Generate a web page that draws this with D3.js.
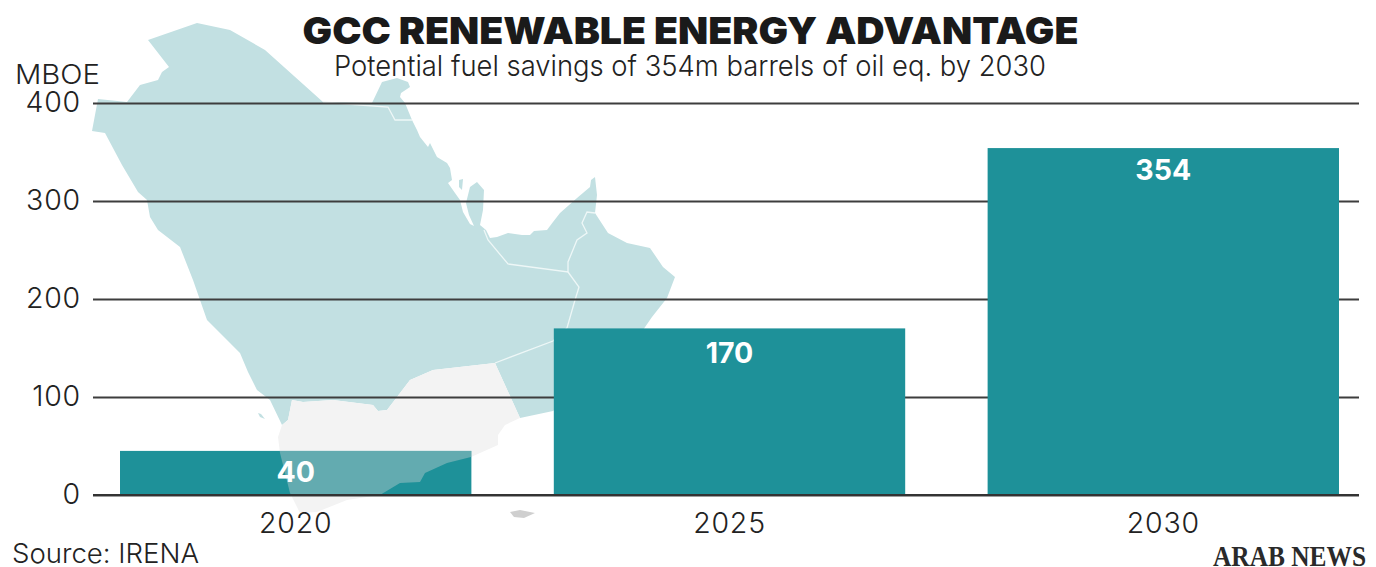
<!DOCTYPE html>
<html><head><meta charset="utf-8">
<script src="https://cdn.jsdelivr.net/npm/d3@7"></script>
<style>
html,body{margin:0;padding:0;background:#fff;overflow:hidden}
text{font-family:Inter,"Noto Sans",sans-serif;fill:#222}
</style></head><body><svg id="c" width="1376" height="567"></svg>
<script>
const categories = ["2020","2025","2030"];
const barValues = [45,170,354];
const valueLabels = ["40","170","354"];
const yTicks = [0,100,200,300,400];
const titleText = "GCC RENEWABLE ENERGY ADVANTAGE";
const subtitleText = "Potential fuel savings of 354m barrels of oil eq. by 2030";
const unitText = "MBOE";
const sourceText = "Source: IRENA";
const logoText = "ARAB NEWS";

// Decorative backdrop map outlines
const gccOutline = [[148,40],[197,23],[230,30],[265,50],[323,102],[372,103],[382,82],[397,78],[408,82],[410,87],[401,93],[400,97],[405,103],[412,120],[417,130],[420,137],[428,147],[430,143],[437,157],[447,163],[450,168],[452,180],[448,183],[455,193],[460,200],[463,212],[470,224],[474,226],[469,215],[466,203],[470,187],[477,182],[484,190],[483,210],[480,225],[486,230],[490,238],[497,237],[508,233],[522,235],[530,235],[534,231],[547,230],[553,222],[560,213],[577,198],[590,187],[591,180],[595,177],[597,195],[595,213],[608,233],[627,243],[650,248],[663,267],[675,277],[667,298],[652,317],[643,330],[600,370],[553,411],[520,418],[495,363],[433,370],[410,380],[397,397],[387,410],[378,411],[373,405],[333,400],[303,402],[292,400],[288,420],[282,425],[270,400],[257,390],[248,372],[240,353],[230,343],[207,320],[193,280],[180,247],[158,230],[150,217],[147,200],[138,192],[122,165],[105,133],[92,131],[98,99],[127,102],[140,85],[158,80],[162,72],[169,67]];
const yemenOutline = [[495,363],[520,418],[505,425],[498,435],[498,445],[471,457],[447,463],[425,473],[420,482],[400,483],[380,495],[347,500],[317,512],[300,513],[290,493],[280,453],[278,437],[282,425],[288,420],[292,400],[303,402],[333,400],[373,405],[378,411],[387,410],[397,397],[410,380],[433,370]];
const socotra = [[510,512],[520,510],[535,513],[524,518],[514,517]];
const bahrain = [[459,180],[463,179],[462,190],[459,187]];
const farasan = [[258,413],[261,414],[265,419],[260,417]];
const borders = [
  [[323,102],[360,105],[388,107],[395,120],[412,120]],
  [[484,230],[488,240],[508,264],[568,272],[568,262],[577,240],[587,233],[582,223],[587,212],[595,213]],
  [[568,272],[579,287],[575,300],[567,328],[553,341],[495,363]]
];

const svg = d3.select("#c");
const y = d3.scaleLinear().domain([0,400]).range([495,103]);
const x = d3.scaleBand().domain(categories).range([120,1339]).paddingInner(0.19).paddingOuter(0);
const line = d3.line();
const closed = d3.line().curve(d3.curveLinearClosed);

// map
svg.append("path").attr("d",closed(gccOutline)).attr("fill","#c2e0e2");
svg.append("path").attr("d",closed(bahrain)).attr("fill","#c2e0e2");
svg.append("path").attr("d",closed(farasan)).attr("fill","#c2e0e2");
svg.append("path").attr("d",closed(yemenOutline)).attr("fill","#f3f3f3");
svg.append("path").attr("d",closed(socotra)).attr("fill","#cfcfcf");
svg.selectAll("path.b").data(borders).join("path").attr("class","b")
  .attr("d",line).attr("fill","none").attr("stroke","#eef7f7").attr("stroke-width",1.3);

// grid + y axis
const axis = svg.append("g").attr("transform","translate(93,0)")
  .call(d3.axisLeft(y).tickValues(yTicks).tickSize(-1266).tickPadding(12).tickFormat(d3.format("d")));
axis.select(".domain").remove();
axis.selectAll(".tick line").attr("stroke","#3d3d3d").attr("stroke-width",1.8);
axis.selectAll(".tick text").attr("font-size",28.5).attr("font-weight",300).attr("letter-spacing",0.8)
  .style("font-family","Inter").style("fill","#222").attr("dy","0.3em").attr("x",-12);

// bars
svg.selectAll("rect.bar").data(categories).join("rect").attr("class","bar")
  .attr("x",d=>x(d)).attr("width",x.bandwidth())
  .attr("y",(d,i)=>y(barValues[i])).attr("height",(d,i)=>y(0)-y(barValues[i]))
  .attr("fill","#1e9199");

// Yemen veil across the first bar
svg.append("clipPath").attr("id","veil").append("rect")
  .attr("x",x(categories[0])).attr("width",x.bandwidth())
  .attr("y",y(barValues[0])).attr("height",y(0)-y(barValues[0]));
svg.append("path").attr("d",closed(yemenOutline)).attr("clip-path","url(#veil)")
  .attr("fill","#d4d4d4").attr("fill-opacity",0.38);

// baseline
svg.append("line").attr("x1",93).attr("x2",1359).attr("y1",y(0)).attr("y2",y(0))
  .attr("stroke","#333").attr("stroke-width",2.2);

// value labels
const labelDrop = [31,35,32];
svg.selectAll("text.v").data(categories).join("text").attr("class","v")
  .attr("x",d=>x(d)+x.bandwidth()/2)
  .attr("y",(d,i)=>y(barValues[i])+labelDrop[i])
  .attr("text-anchor","middle").attr("font-size",28.5).attr("font-weight",700)
  .style("fill","#fff").text((d,i)=>valueLabels[i]);

// category labels
svg.selectAll("text.c").data(categories).join("text").attr("class","c")
  .attr("x",d=>x(d)+x.bandwidth()/2).attr("y",533)
  .attr("text-anchor","middle").attr("font-size",28.5).attr("font-weight",300).attr("letter-spacing",0.8).text(d=>d);

// titles
svg.append("text").attr("x",690.5).attr("y",44).attr("text-anchor","middle")
  .attr("font-size",37).attr("font-weight",900).attr("textLength",776).attr("lengthAdjust","spacingAndGlyphs")
  .style("fill","#1a1a1a").text(titleText);
svg.append("text").attr("x",690).attr("y",76).attr("text-anchor","middle")
  .attr("font-size",29).attr("font-weight",300).attr("textLength",712).attr("lengthAdjust","spacingAndGlyphs").text(subtitleText);
svg.append("text").attr("x",15).attr("y",84)
  .attr("font-size",27.5).attr("font-weight",300).attr("textLength",85).attr("lengthAdjust","spacingAndGlyphs").text(unitText);
svg.append("text").attr("x",12).attr("y",563)
  .attr("font-size",27).attr("font-weight",300).attr("textLength",187).attr("lengthAdjust","spacingAndGlyphs").text(sourceText);
svg.append("text").attr("x",1213).attr("y",566)
  .attr("font-size",29.5).attr("font-weight",700).attr("textLength",153).attr("lengthAdjust","spacingAndGlyphs")
  .style("font-family","'Liberation Serif',serif").style("fill","#2a2a2a").text(logoText);
</script></body></html>
